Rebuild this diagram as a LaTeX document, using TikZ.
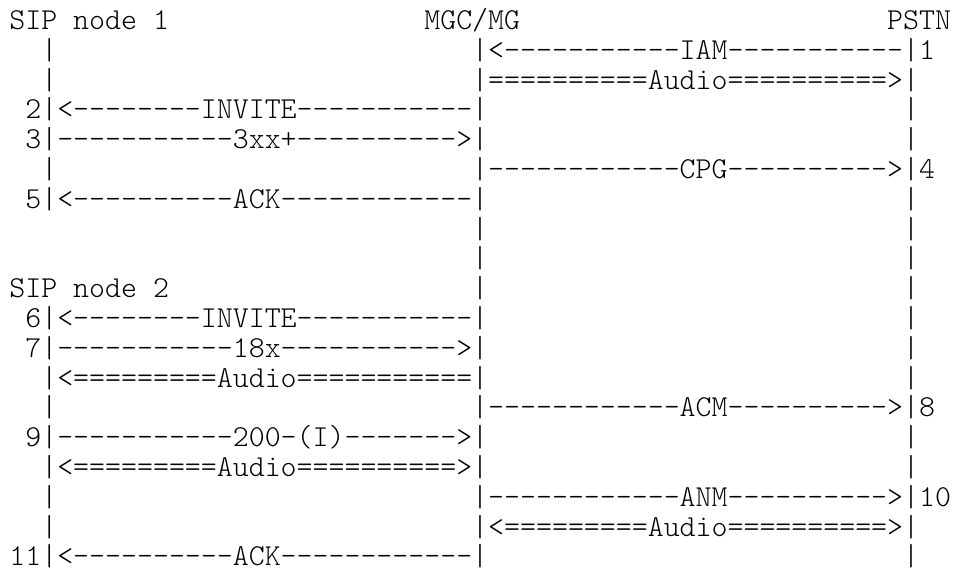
\documentclass[tikz,border=0pt]{standalone}
\usepackage{fontspec}
\setmonofont{lmmonolt10-regular.otf}
\usepackage{tikz}
\newlength\asciiwd
\settowidth\asciiwd{\ttfamily\fontsize{10pt}{10pt}\selectfont M}
\pgfmathsetmacro\asciisize{10*15.96/\asciiwd}
\newcommand\asciifont{\ttfamily\fontsize{\asciisize pt}{\asciisize pt}\selectfont}
\tikzset{
  ascii/.style={font=\asciifont,inner sep=0pt,outer sep=0pt,anchor=base west},
  lifeline/.style={ascii}
}

\begin{document}
\begin{tikzpicture}[x=15.96pt,y=-29.8pt]
\useasboundingbox (-0.589,-0.990) rectangle (59.248,18.272);

% heads
\node[ascii] (sipA) at (0,0) {SIP node 1};
\node[ascii] (mgc)  at (26,0) {MGC/MG};
\node[ascii] (pstn) at (55,0) {PSTN};
\node[ascii] (sipB) at (0,9) {SIP node 2};

% messages
\node[ascii] (iam)     at (29,1)  {|<-----------IAM-----------|1};
\node[ascii] (audioA)  at (29,2)  {|==========Audio==========>|};
\node[ascii] (inviteA) at (1,3)   {2|<--------INVITE-----------|};
\node[ascii] (redir)   at (1,4)   {3|-----------3xx+---------->|};
\node[ascii] (cpg)     at (29,5)  {|------------CPG---------->|4};
\node[ascii] (ackA)    at (1,6)   {5|<----------ACK------------|};
\node[ascii] (inviteB) at (1,10)  {6|<--------INVITE-----------|};
\node[ascii] (prov)    at (1,11)  {7|-----------18x----------->|};
\node[ascii] (audioB)  at (2,12)  {|<=========Audio===========|};
\node[ascii] (acm)     at (29,13) {|------------ACM---------->|8};
\node[ascii] (okI)     at (1,14)  {9|-----------200-(I)------->|};
\node[ascii] (audioC)  at (2,15)  {|<=========Audio==========>|};
\node[ascii] (anm)     at (29,16) {|------------ANM---------->|10};
\node[ascii] (audioD)  at (29,17) {|<=========Audio==========>|};
\node[ascii] (ackB)    at (0,18)  {11|<----------ACK------------|};

% lifeline pieces
\foreach \c/\r in {2/1,2/2,56/3,56/4,2/5,56/6,29/7,56/7,29/8,56/8,29/9,56/9,
  56/10,56/11,56/12,2/13,56/14,56/15,2/16,2/17,56/18}
  \node[lifeline] (bar\c-\r) at (\c,\r) {|};
\end{tikzpicture}
\end{document}
